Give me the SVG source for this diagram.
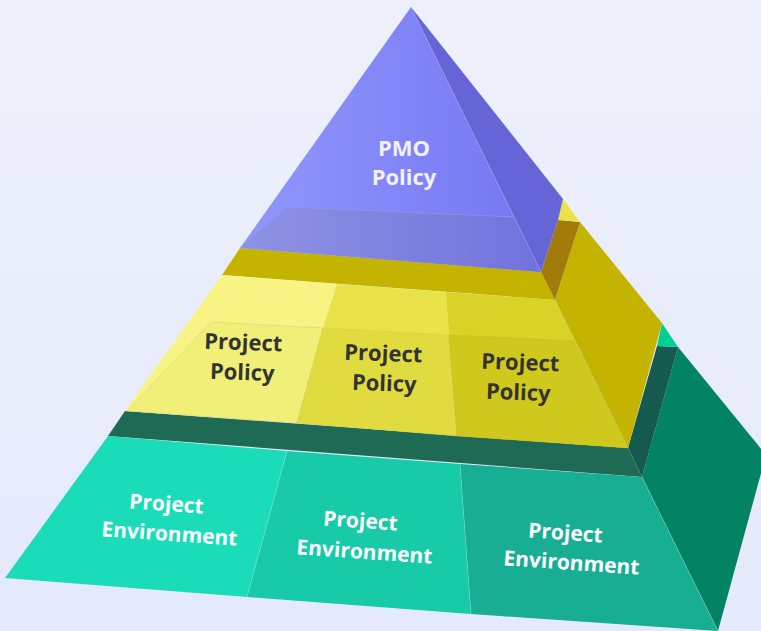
<svg xmlns="http://www.w3.org/2000/svg" width="761" height="631" viewBox="0 0 761 631">
<defs>
<linearGradient id="bg" x1="0" y1="0" x2="0" y2="1">
<stop offset="0" stop-color="#eef1fb"/>
<stop offset="1" stop-color="#e4e9fb"/>
</linearGradient>
<linearGradient id="blueFront" gradientUnits="userSpaceOnUse" x1="240" y1="0" x2="541" y2="0">
<stop offset="0" stop-color="#9297fd"/>
<stop offset="1" stop-color="#7476f1"/>
</linearGradient>
<linearGradient id="blueBand" gradientUnits="userSpaceOnUse" x1="240" y1="0" x2="541" y2="0">
<stop offset="0" stop-color="#8f93e2"/>
<stop offset="1" stop-color="#7172dc"/>
</linearGradient>
</defs>
<style>
.txt{font-family:"Open Sans","Noto Sans","Liberation Sans",sans-serif;font-weight:bold;font-size:22px;text-anchor:middle}
.env{font-size:21px}
.dark{fill:#333333}
.white{fill:#ffffff}
.pmo{fill:#f2f2ff}
.seam{stroke:#ffffff;stroke-opacity:0.25;stroke-width:0.8;fill:none}
</style>
<rect width="761" height="631" fill="url(#bg)"/>

<g id="tier-environment">
<polygon points="678,347 766,455 718,631 642,477" fill="#028462"/>
<polygon points="657,346 678,347 642,477 628,448" fill="#145a4e"/>
<polygon points="662,323 678,347 657,346" fill="#00d192"/>
<polygon points="125,411 628,448 642,477 108,436" fill="#1f6a55"/>
</g>

<g id="env1">
<polygon points="108,436 287,451 247,597 5,578" fill="#1bdcb9"/>
<text class="txt env white" transform="translate(166,511) rotate(4)">Project</text>
<text class="txt env white" transform="translate(169,541) rotate(4)">Environment</text>
</g>
<g id="env2">
<polygon points="287,451 460,464 471,614 247,597" fill="#17caa8"/>
<text class="txt env white" transform="translate(360,528) rotate(4)">Project</text>
<text class="txt env white" transform="translate(364,559) rotate(4)">Environment</text>
</g>
<g id="env3">
<polygon points="460,464 642,477 718,631 471,614" fill="#17ae94"/>
<text class="txt env white" transform="translate(565,540) rotate(4)">Project</text>
<text class="txt env white" transform="translate(571,570) rotate(4)">Environment</text>
</g>
<path class="seam" d="M287,451 L247,597 M460,464 L471,614 M642,477 L718,631"/>

<g id="tier-policy">
<polygon points="580,222 662,323 628,448 555,300" fill="#c4b400"/>
<polygon points="240,248 541,272 555,300 222,275" fill="#c4b400"/>
<polygon points="558,220 580,222 555,300 541,272" fill="#a37b0a"/>
<polygon points="563,199 580,222 558,220" fill="#ebe24a"/>
</g>

<g id="policy1">
<polygon points="222,275 337,284 323,328 297,423 125,411" fill="#f8f483"/>
<polygon points="211,322 323,328 297,423 127,411" fill="#f0ef78" stroke="#c8c86a" stroke-width="0.6" stroke-opacity="0.6"/>
<text class="txt dark" transform="translate(243,350) rotate(2)">Project</text>
<text class="txt dark" transform="translate(242,380) rotate(2)">Policy</text>
</g>
<g id="policy2">
<polygon points="337,284 446,292 449,335 457,436 297,423 323,328" fill="#e9e34a"/>
<polygon points="323,328 449,335 457,436 297,423" fill="#e0dc3f" stroke="#c8c45a" stroke-width="0.6" stroke-opacity="0.6"/>
<text class="txt dark" transform="translate(383,361) rotate(2)">Project</text>
<text class="txt dark" transform="translate(384,391) rotate(2)">Policy</text>
</g>
<g id="policy3">
<polygon points="446,292 555,300 628,448 457,436 449,335" fill="#d9d227"/>
<polygon points="449,335 574,341 628,448 457,436" fill="#cfc91e" stroke="#b8b230" stroke-width="0.6" stroke-opacity="0.6"/>
<text class="txt dark" transform="translate(520,370) rotate(2)">Project</text>
<text class="txt dark" transform="translate(518,400) rotate(2)">Policy</text>
</g>
<path d="M555,300 L628,448" stroke="#b0d060" stroke-width="0.8" fill="none" stroke-opacity="0.6"/>

<g id="pmo">
<polygon points="411,7 563,199 558,220 541,272" fill="#6565d7"/>
<polygon points="411,7 240,248 541,272" fill="url(#blueFront)"/>
<polygon points="288,207 514,217 541,272 240,248" fill="url(#blueBand)"/>
<path d="M288,207 L514,217 M411,7 L541,272" stroke="#9a9ae8" stroke-width="0.8" fill="none" stroke-opacity="0.7"/>
<text class="txt pmo" x="404" y="156">PMO</text>
<text class="txt pmo" x="404" y="185">Policy</text>
</g>
</svg>
